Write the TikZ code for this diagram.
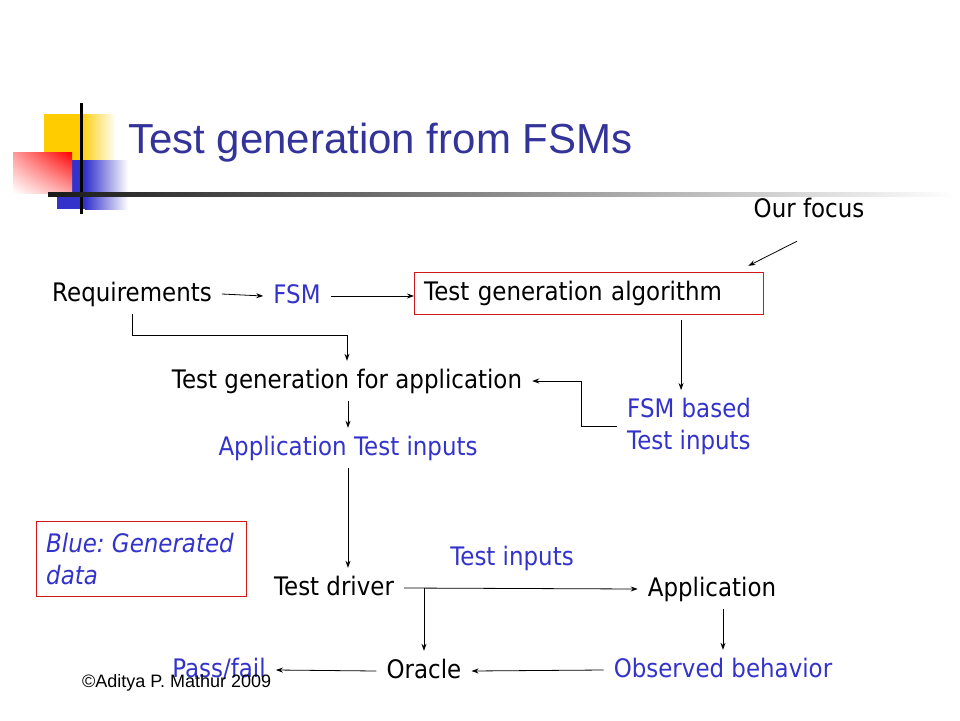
\documentclass[tikz,border=0pt]{standalone}
\usepackage{fontspec}
\setmainfont{DejaVu Sans}[FakeStretch=0.9, ItalicFeatures={FakeStretch=0.9}]
\newfontfamily\slidefont{Liberation Sans}
\usepackage{tikz}
\usetikzlibrary{arrows.meta,positioning,calc,shadings}
\definecolor{gendata}{HTML}{3333CC}
\definecolor{titleblue}{HTML}{333399}
\definecolor{boxred}{HTML}{D01818}
\definecolor{logoyellow}{HTML}{FFCC00}
\definecolor{logoblue}{HTML}{3333CC}
\frenchspacing

\begin{document}
\begin{tikzpicture}[x=1pt, y=-1pt,
    txt/.style={font=\fontsize{25.5}{32}\selectfont, inner xsep=10pt, inner ysep=8pt},
    lbl/.style={txt, anchor=base, text height=19pt, text depth=5pt},
    gen/.style={lbl, text=gendata},
    algo box/.style={lbl, draw=boxred, anchor=base west, text width=329pt, align=left, inner ysep=9pt},
    note box/.style={draw=boxred, text=gendata, font=\itshape\fontsize{25.5}{32}\selectfont, align=flush left, anchor=north west, text width=190pt, inner xsep=10pt, minimum height=75pt},
    flow/.style={-{Stealth[length=7pt,width=5pt]}, line width=0.8pt}]
    \useasboundingbox (0,0) rectangle (960,720);

    % logo
    \fill[logoyellow] (44,114) rectangle (81,160);
    \shade[left color=logoyellow, right color=white] (80,114) rectangle (116,160);
    \fill[logoblue] (57,160) rectangle (86,209);
    \shade[left color=logoblue, right color=white] (85,160) rectangle (128,209);
    \shade[upper right=red, upper left=red!40, lower right=red!35, lower left=white] (13,152) rectangle (72,193);
    \draw[line width=3pt] (81,103) -- (81,214);
    \shade[left color=black!90, right color=white] (48,192) rectangle (955,196);

    \node[font=\slidefont\fontsize{42}{48}\selectfont, text=titleblue, anchor=base west, inner sep=0pt] (title) at (128,153) {Test generation from FSMs};

    \node[lbl] (focus) at (809,217) {Our focus};
    \node[lbl] (req) at (132,301) {Requirements};
    \node[gen] (fsm) at (297,303) {FSM};
    \node[algo box] (algo) at (414,300) {Test generation algorithm};
    \node[lbl] (forapp) at (347,388) {Test generation for application};
    \node[gen] (appin) at (348,455) {Application Test inputs};
    \node[txt, text=gendata, align=left, anchor=north west] (fsmin) at (617,390) {FSM based\\Test inputs};
    \node[note box] (note) at (36,521) {Blue: Generated\\data};
    \node[lbl] (driver) at (334,595) {Test driver};
    \node[gen] (tin) at (512,565) {Test inputs};
    \node[lbl] (appl) at (712,596) {Application};
    \node[lbl] (oracle) at (424,678) {Oracle};
    \node[gen] (obs) at (723,677) {Observed behavior};
    \node[gen] (pass) at (219,677) {Pass/fail};
    \node[font=\slidefont\fontsize{18}{20}\selectfont, anchor=base west, inner sep=0pt] (copy) at (82,687) {©Aditya P. Mathur 2009};

    \draw[flow] (req.east) -- (fsm.west);
    \draw[flow] (fsm.east) -- (fsm.east -| algo.west);
    \draw[flow] ([xshift=-12pt,yshift=-11pt]focus.south) -- ([xshift=-15pt,yshift=6pt]algo.north east);
    \draw[flow] (req.south) -- ++(0,21) -| (forapp.north);
    \draw[flow] ($(fsmin.north |- algo.south)+(-8,6)$) -- ($(fsmin.north)+(-8,0)$);
    \draw[flow] (fsmin.west) -- ++(-36,0) |- (forapp.east);
    \draw[flow] (forapp.south -| appin.north) -- (appin.north);
    \draw[flow] (appin.south) -- (appin.south |- driver.north);
    \draw[flow] (driver.east) -- (appl.west);
    \draw[flow] (driver.east -| oracle.north) -- (oracle.north);
    \draw[flow] (obs.north |- appl.south) -- (obs.north);
    \draw[flow] (obs.west) -- (oracle.east);
    \draw[flow] (oracle.west) -- (pass.east);

\end{tikzpicture}
\end{document}
